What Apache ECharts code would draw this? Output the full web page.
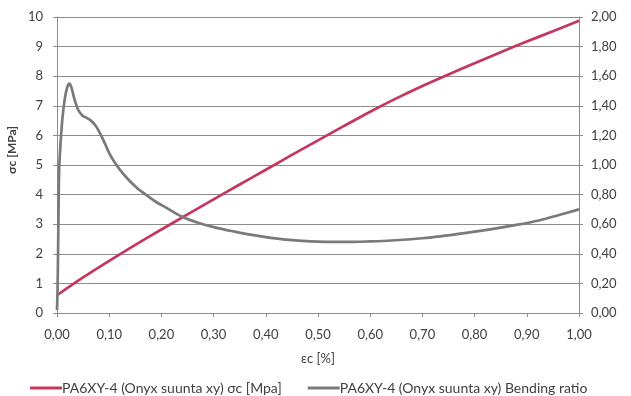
<!DOCTYPE html>
<html>
<head>
<meta charset="utf-8">
<script src="https://cdn.jsdelivr.net/npm/echarts@6/dist/echarts.min.js"></script>
<style>
html,body{margin:0;padding:0;background:#fff;}
#chart{width:631px;height:396px;}
</style>
</head>
<body>
<div id="chart"></div>
<script>
// Strain [%] for the stress series
const strainStress = [0, 0.05, 0.10, 0.15, 0.20, 0.25, 0.30, 0.35, 0.40, 0.45, 0.50, 0.55, 0.60, 0.65, 0.70, 0.75, 0.80, 0.85, 0.90, 0.95, 1.00];
// Stress σc [MPa]
const stressValues = [0.6, 1.2, 1.76, 2.3, 2.82, 3.33, 3.84, 4.34, 4.84, 5.34, 5.83, 6.32, 6.8, 7.25, 7.67, 8.06, 8.44, 8.81, 9.17, 9.52, 9.87];
// Strain [%] for the bending ratio series
const strainBending = [0, 0.001, 0.002, 0.003, 0.004, 0.006, 0.010, 0.015, 0.020, 0.024, 0.028, 0.033, 0.041, 0.050, 0.056, 0.065, 0.073, 0.080, 0.090, 0.100, 0.110, 0.120, 0.137, 0.155, 0.170, 0.190, 0.210, 0.240, 0.270, 0.306, 0.340, 0.370, 0.400, 0.433, 0.470, 0.500, 0.560, 0.600, 0.640, 0.700, 0.734, 0.780, 0.830, 0.880, 0.925, 0.960, 1.000];
// Bending ratio
const bendingRatio = [0.02, 0.15, 0.4, 0.7, 0.95, 1.1, 1.3, 1.45, 1.53, 1.55, 1.52, 1.45, 1.37, 1.33, 1.32, 1.3, 1.27, 1.23, 1.16, 1.08, 1.02, 0.97, 0.90, 0.84, 0.80, 0.75, 0.71, 0.65, 0.61, 0.575, 0.55, 0.53, 0.513, 0.498, 0.487, 0.482, 0.48, 0.484, 0.49, 0.505, 0.518, 0.54, 0.565, 0.595, 0.627, 0.66, 0.70];

const seriesNames = ['PA6XY-4 (Onyx suunta xy) σc [Mpa]', 'PA6XY-4 (Onyx suunta xy) Bending ratio'];
const xTitle = 'εc [%]';
const yTitle = 'σc [MPa]';

const redData = strainStress.map((x, i) => [x, stressValues[i]]);
const grayData = strainBending.map((x, i) => [x, bendingRatio[i]]);

const font = 'Lato, "Open Sans", sans-serif';
const textColor = '#404040';
const lineGray = '#8c8c8c';

const chart = echarts.init(document.getElementById('chart'), null, {renderer: 'canvas'});
chart.setOption({
  animation: false,
  backgroundColor: '#fff',
  textStyle: {fontFamily: font},
  grid: {left: 57, right: 52, top: 17, bottom: 83, containLabel: false},
  legend: {
    top: 376,
    left: 25,
    itemGap: 26,
    itemWidth: 32,
    itemHeight: 3,
    icon: 'rect',
    textStyle: {fontFamily: font, fontSize: 14, color: textColor, padding: [0,0,0,-5]},
    data: seriesNames
  },
  xAxis: {
    type: 'value', min: 0, max: 1, interval: 0.1,
    axisLine: {show: true, lineStyle: {color: lineGray, width: 1}},
    axisTick: {show: true, length: 4, lineStyle: {color: lineGray}},
    splitLine: {show: false},
    axisLabel: {color: textColor, fontSize: 13, fontFamily: font, margin: 15,
      formatter: v => v.toFixed(2).replace('.', ',')},
    name: xTitle, nameLocation: 'middle', nameGap: 39,
    nameTextStyle: {color: textColor, fontSize: 13, fontFamily: font}
  },
  yAxis: [
    {
      type: 'value', min: 0, max: 10, interval: 1,
      axisLine: {show: true, lineStyle: {color: lineGray, width: 1}},
      axisTick: {show: true, length: 4, lineStyle: {color: lineGray}},
      splitLine: {show: true, lineStyle: {color: lineGray, width: 1}},
      axisLabel: {color: textColor, fontSize: 13, fontFamily: font, margin: 14}
    },
    {
      type: 'value', min: 0, max: 2, interval: 0.2,
      axisLine: {show: true, lineStyle: {color: lineGray, width: 1}},
      axisTick: {show: true, length: 4, lineStyle: {color: lineGray}},
      splitLine: {show: false},
      axisLabel: {color: textColor, fontSize: 13, fontFamily: font, margin: 12,
        formatter: v => v.toFixed(2).replace('.', ',')}
    }
  ],
  graphic: [{
    type: 'text', left: 6, top: 126, rotation: Math.PI / 2,
    style: {text: yTitle, fill: textColor, font: 'bold 12px ' + font}
  }],
  series: [
    {
      name: seriesNames[0], type: 'line', yAxisIndex: 0, data: redData,
      showSymbol: false, smooth: 0.3,
      lineStyle: {color: '#c4365e', width: 2.7},
      itemStyle: {color: '#c4365e'}
    },
    {
      name: seriesNames[1], type: 'line', yAxisIndex: 1, data: grayData,
      showSymbol: false, smooth: 0.3,
      lineStyle: {color: '#7a7a7a', width: 2.7},
      itemStyle: {color: '#7a7a7a'}
    }
  ]
});
</script>
</body>
</html>
